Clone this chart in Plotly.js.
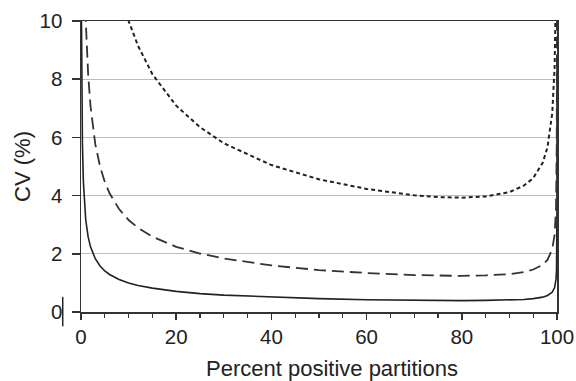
<!DOCTYPE html>
<html>
<head>
<meta charset="utf-8">
<script src="https://cdn.plot.ly/plotly-3.0.1.min.js"></script>
<style>html,body{margin:0;padding:0;background:#fff;}#chart{width:576px;height:381px;}</style>
</head>
<body>
<div id="chart"></div>
<script>
// Percent positive partitions (x) and CV in % (y)
var pctSolid = [0.1, 0.2, 0.3, 0.5, 0.7, 1, 1.5, 2, 3, 4, 5, 6, 8, 10, 12, 15, 20, 25, 30, 40, 50, 60, 70, 75, 80, 85, 90, 93, 95, 97, 98, 99, 99.5, 99.8, 99.9, 99.95, 99.98, 99.99, 99.999];
var cvSolid  = [10.0, 7.07, 5.77, 4.47, 3.78, 3.16, 2.58, 2.24, 1.83, 1.58, 1.41, 1.29, 1.12, 1.00, 0.91, 0.82, 0.71, 0.63, 0.58, 0.51, 0.46, 0.42, 0.40, 0.39, 0.39, 0.40, 0.41, 0.43, 0.46, 0.51, 0.57, 0.68, 0.84, 1.14, 1.45, 1.86, 2.62, 3.43, 8.69];

var pctDashed = [0.5, 0.7, 1, 1.5, 2, 3, 4, 5, 6, 8, 10, 12, 15, 20, 25, 30, 40, 50, 60, 70, 75, 80, 85, 90, 93, 95, 97, 98, 99, 99.5, 99.8, 99.9, 99.95, 99.98, 99.99];
var cvDashed  = [14.1, 11.9, 10.0, 8.17, 7.07, 5.77, 5.00, 4.47, 4.08, 3.54, 3.16, 2.89, 2.59, 2.24, 2.01, 1.84, 1.60, 1.44, 1.34, 1.27, 1.25, 1.24, 1.26, 1.30, 1.37, 1.46, 1.62, 1.79, 2.16, 2.66, 3.59, 4.58, 5.88, 8.30, 10.9];

var pctDotted = [8, 10, 12, 15, 20, 25, 30, 40, 50, 60, 70, 75, 80, 85, 90, 93, 95, 97, 98, 99, 99.5, 99.8];
var cvDotted  = [11.2, 10.0, 9.14, 8.17, 7.09, 6.35, 5.80, 5.05, 4.56, 4.23, 4.01, 3.95, 3.93, 3.97, 4.12, 4.34, 4.60, 5.13, 5.66, 6.83, 8.42, 11.4];

var xTicks = [0, 20, 40, 60, 80, 100];
var yTicks = [0, 2, 4, 6, 8, 10];
var xTitle = 'Percent positive partitions';
var yTitle = 'CV (%)';

var FONT = '"Liberation Sans", Arial, sans-serif';

var traces = [
  {x: pctSolid, y: cvSolid, mode: 'lines', line: {color: '#222', width: 1.6}, hoverinfo: 'skip'},
  {x: pctDashed, y: cvDashed, mode: 'lines', line: {color: '#333', width: 1.8, dash: '12px,6px'}, hoverinfo: 'skip'},
  {x: pctDotted, y: cvDotted, mode: 'lines', line: {color: '#222', width: 2, dash: '4px,3px'}, hoverinfo: 'skip'}
];

var layout = {
  width: 576, height: 381,
  margin: {l: 81, r: 19, t: 21, b: 69},
  paper_bgcolor: '#fff', plot_bgcolor: '#fff',
  showlegend: false,
  font: {family: FONT, color: '#222', size: 20},
  xaxis: {
    range: [0, 100], tickvals: xTicks, ticktext: xTicks.map(String),
    showgrid: false, zeroline: false,
    showline: true, linecolor: '#333', linewidth: 1.5, mirror: true,
    ticks: 'outside', ticklen: 6, tickwidth: 1.5, tickcolor: '#333',
    minor: {dtick: 5, tick0: 0, ticks: 'outside', ticklen: 4, tickwidth: 1.3, tickcolor: '#333', showgrid: false},
    tickfont: {size: 20.5, family: FONT, color: '#222'},
    ticklabelstandoff: 0,
    fixedrange: true
  },
  yaxis: {
    range: [0, 10], tickvals: yTicks, ticktext: yTicks.map(String),
    showgrid: true, gridcolor: '#bdbdbd', gridwidth: 1,
    zeroline: false,
    showline: true, linecolor: '#333', linewidth: 1.5, mirror: true,
    ticks: 'outside', ticklen: 8, tickwidth: 1.5, tickcolor: '#333',
    tickfont: {size: 20.5, family: FONT, color: '#222'},
    ticklabelstandoff: 5,
    title: {text: yTitle, font: {size: 22, family: FONT, color: '#222'}, standoff: 3},
    fixedrange: true
  },
  annotations: [
    {text: xTitle, xref: 'paper', yref: 'paper', x: 0.5, y: 0, xanchor: 'center', yanchor: 'middle',
     xshift: 13, yshift: -56, showarrow: false, font: {size: 22, family: FONT, color: '#222'}}
  ],
  shapes: [
    {type: 'line', xref: 'paper', yref: 'paper', x0: -0.0384, x1: -0.0384, y0: 0.052, y1: -0.049,
     line: {color: '#222', width: 1.5}}
  ]
};

Plotly.newPlot('chart', traces, layout, {staticPlot: true, displayModeBar: false});
</script>
</body>
</html>
